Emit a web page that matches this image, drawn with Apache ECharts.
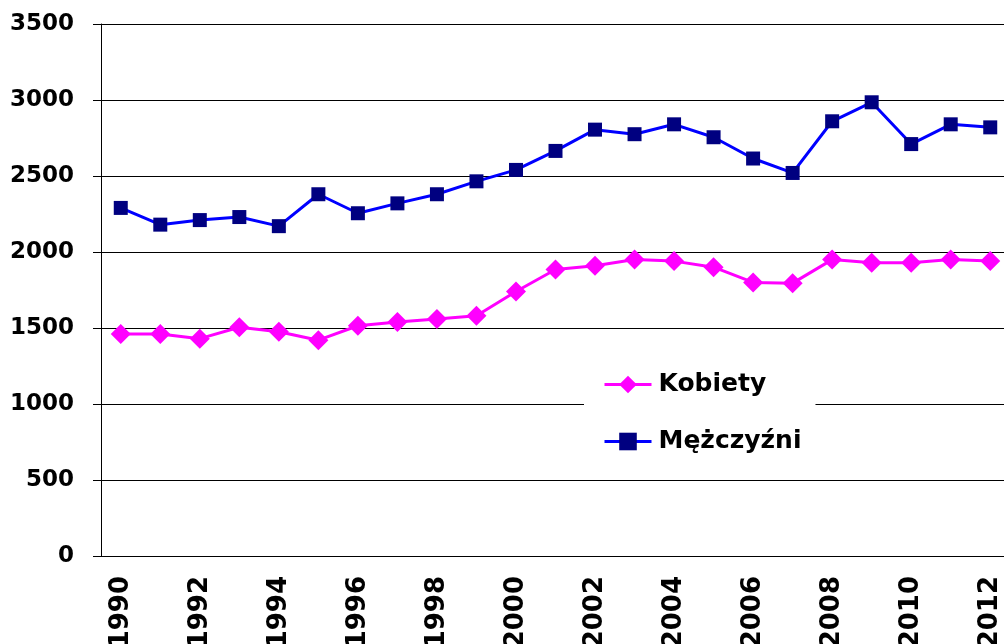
<!DOCTYPE html>
<html>
<head>
<meta charset="utf-8">
<script src="https://cdn.jsdelivr.net/npm/echarts@6/dist/echarts.min.js"></script>
<style>
  html, body { margin: 0; padding: 0; background: #fff; }
  #chart { width: 1004px; height: 644px; }
</style>
</head>
<body>
<div id="chart"></div>
<script>
const years = ['1990', '1991', '1992', '1993', '1994', '1995', '1996', '1997', '1998', '1999', '2000',
  '2001', '2002', '2003', '2004', '2005', '2006', '2007', '2008', '2009', '2010', '2011', '2012']

const kobiety = [1460, 1460, 1430, 1505, 1475, 1420, 1515, 1540, 1560, 1580, 1740,
  1885, 1910, 1950, 1940, 1900, 1800, 1795, 1950, 1930, 1930, 1950, 1940]

const mezczyzni = [2290, 2180, 2210, 2230, 2170, 2380, 2255, 2320, 2380, 2465, 2540,
  2665, 2805, 2775, 2840, 2755, 2615, 2520, 2860, 2985, 2710, 2840, 2820]

const yTicks = [0, 500, 1000, 1500, 2000, 2500, 3000, 3500]

const font = 'DejaVu Sans, Verdana, sans-serif'

const chart = echarts.init(document.getElementById('chart'))

const option = {
  backgroundColor: '#fff',
  animation: false,
  grid: {
    left: 101,
    top: 24,
    bottom: 88,
    right: -6,
    containLabel: false,
    outerBoundsMode: 'none',
  },
  legend: {
    orient: 'vertical',
    left: 584,
    top: 364,
    backgroundColor: '#fff',
    padding: [8, 14, 8, 19],
    itemGap: 32,
    itemWidth: 47,
    itemHeight: 22,
    lineStyle: { width: 3 },
    textStyle: {
      fontFamily: font,
      fontWeight: 'bold',
      fontSize: 25,
      color: '#000',
      padding: [0, 0, 0, 2],
    },
    data: ['Kobiety', 'Mężczyźni'],
  },
  xAxis: {
    type: 'category',
    data: years,
    boundaryGap: true,
    axisLine: { lineStyle: { color: '#000', width: 1 } },
    axisTick: {
      interval: 0,
      length: 6,
      lineStyle: { color: '#000' },
    },
    axisLabel: {
      interval: 1,
      rotate: 90,
      margin: 20,
      color: '#000',
      fontFamily: font,
      fontWeight: 'bold',
      fontSize: 26,
    },
  },
  yAxis: {
    type: 'value',
    min: yTicks[0],
    max: yTicks[yTicks.length - 1],
    interval: 500,
    axisLine: { show: true, lineStyle: { color: '#000', width: 1 } },
    axisTick: { show: true, length: 8, lineStyle: { color: '#000' } },
    splitLine: { lineStyle: { color: '#000', width: 1 } },
    axisLabel: {
      margin: 27,
      color: '#000',
      fontFamily: font,
      fontWeight: 'bold',
      fontSize: 23,
      formatter: (v) => String(v),
    },
  },
  series: [
    {
      name: 'Kobiety',
      type: 'line',
      data: kobiety,
      symbol: 'diamond',
      symbolSize: 20,
      lineStyle: { color: '#ff00ff', width: 3 },
      itemStyle: { color: '#ff00ff' },
      z: 3,
    },
    {
      name: 'Mężczyźni',
      type: 'line',
      data: mezczyzni,
      symbol: 'rect',
      symbolSize: 14,
      lineStyle: { color: '#0000ff', width: 3 },
      itemStyle: { color: '#000080' },
      z: 3,
    },
  ],
}

chart.setOption(option)

window.addEventListener('resize', () => {
  chart.resize()
})
</script>
</body>
</html>
